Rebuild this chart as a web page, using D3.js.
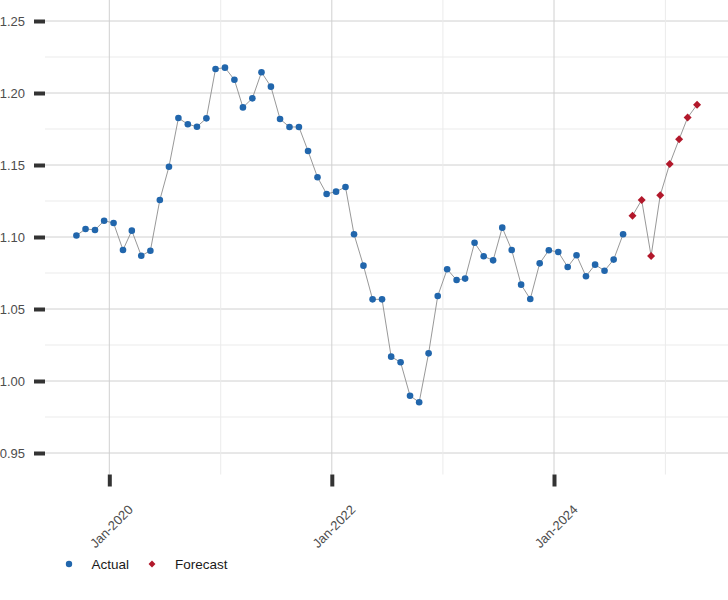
<!DOCTYPE html>
<html>
<head>
<meta charset="utf-8">
<script src="https://cdn.jsdelivr.net/npm/d3@7"></script>
<style>
  html, body { margin: 0; padding: 0; background: #fff; }
  svg { display: block; font-family: "Liberation Sans", Arial, sans-serif; }
</style>
</head>
<body>
<svg id="chart" width="728" height="600"></svg>
<script>
// ---- data ----
const actualMonths = ["2019-09","2019-10","2019-11","2019-12","2020-01","2020-02","2020-03","2020-04","2020-05","2020-06",
  "2020-07","2020-08","2020-09","2020-10","2020-11","2020-12","2021-01","2021-02","2021-03","2021-04",
  "2021-05","2021-06","2021-07","2021-08","2021-09","2021-10","2021-11","2021-12","2022-01","2022-02",
  "2022-03","2022-04","2022-05","2022-06","2022-07","2022-08","2022-09","2022-10","2022-11","2022-12",
  "2023-01","2023-02","2023-03","2023-04","2023-05","2023-06","2023-07","2023-08","2023-09","2023-10",
  "2023-11","2023-12","2024-01","2024-02","2024-03","2024-04","2024-05","2024-06","2024-07","2024-08"];
const actualValues = [1.101, 1.1056, 1.1049, 1.1113, 1.1097, 1.091, 1.1044, 1.087, 1.0905, 1.1257,
  1.1488, 1.1826, 1.1783, 1.1766, 1.1824, 1.2167, 1.2176, 1.2092, 1.19, 1.1963,
  1.2144, 1.2044, 1.1819, 1.1764, 1.1764, 1.1597, 1.1415, 1.1299, 1.1315, 1.1347,
  1.1019, 1.0801, 1.0567, 1.0567, 1.0169, 1.013, 0.9898, 0.9852, 1.0192, 1.059,
  1.0776, 1.0701, 1.0711, 1.096, 1.0866, 1.0838, 1.1065, 1.091, 1.0669, 1.0569,
  1.0817, 1.0908, 1.0896, 1.0792, 1.0873, 1.0727, 1.0808, 1.0766, 1.0843, 1.1019];
const forecastMonths = ["2024-09","2024-10","2024-11","2024-12","2025-01","2025-02","2025-03","2025-04"];
const forecastValues = [1.1148, 1.1257, 1.0868, 1.129, 1.1507, 1.1678, 1.1829, 1.1919];
const xTickLabels = ["Jan-2020", "Jan-2022", "Jan-2024"];
const xMinorLabels = ["Jan-2021", "Jan-2023", "Jan-2025"];
const yTicks = [0.95, 1.00, 1.05, 1.10, 1.15, 1.20, 1.25];
const yMinor = [0.975, 1.025, 1.075, 1.125, 1.175, 1.225];
const seriesNames = ["Actual", "Forecast"];

// ---- setup ----
const parseMonth = d3.timeParse("%Y-%m-%d");
const parseTick = d3.timeParse("%b-%Y");
const actual = actualMonths.map((m, i) => ({ date: parseMonth(m + "-15"), value: actualValues[i] }));
const forecast = forecastMonths.map((m, i) => ({ date: parseMonth(m + "-15"), value: forecastValues[i] }));

const svg = d3.select("#chart");
const plotLeft = 45, plotRight = 728, plotTop = 0, plotBottom = 474.5;

const x = d3.scaleTime()
  .domain([parseTick("Jan-2020"), parseTick("Jan-2024")])
  .range([109.3, 554]);
const y = d3.scaleLinear().domain([0.95, 1.25]).range([453, 21]);

const BLUE = "#2166ac", RED = "#b2182b";

// grid
const grid = svg.append("g");
grid.selectAll("line.hmin").data(yMinor).join("line")
  .attr("x1", plotLeft).attr("x2", plotRight)
  .attr("y1", d => y(d)).attr("y2", d => y(d))
  .attr("stroke", "#ebebeb").attr("stroke-width", 1);
grid.selectAll("line.hmaj").data(yTicks).join("line")
  .attr("x1", plotLeft).attr("x2", plotRight)
  .attr("y1", d => y(d)).attr("y2", d => y(d))
  .attr("stroke", "#d0d0d0").attr("stroke-width", 1);
grid.selectAll("line.vmin").data(xMinorLabels.map(parseTick)).join("line")
  .attr("x1", d => x(d)).attr("x2", d => x(d))
  .attr("y1", plotTop).attr("y2", plotBottom)
  .attr("stroke", "#ebebeb").attr("stroke-width", 1);
grid.selectAll("line.vmaj").data(xTickLabels.map(parseTick)).join("line")
  .attr("x1", d => x(d)).attr("x2", d => x(d))
  .attr("y1", plotTop).attr("y2", plotBottom)
  .attr("stroke", "#d0d0d0").attr("stroke-width", 1);

// y axis
const yAxis = d3.axisLeft(y).tickValues(yTicks).tickFormat(d3.format(".2f")).tickSize(11).tickPadding(9);
const gy = svg.append("g").attr("transform", `translate(${plotLeft},0)`).call(yAxis);
gy.select(".domain").remove();
gy.selectAll(".tick line").attr("stroke", "#333").attr("stroke-width", 4);
gy.selectAll(".tick text").attr("fill", "#4d4d4d").attr("font-size", 13)
  .attr("font-family", "'Liberation Sans', Arial, sans-serif");

// x axis
const xAxis = d3.axisBottom(x).tickValues(xTickLabels.map(parseTick)).tickFormat(d3.timeFormat("%b-%Y")).tickSize(12).tickPadding(0);
const gx = svg.append("g").attr("transform", `translate(0,${plotBottom})`).call(xAxis);
gx.select(".domain").remove();
gx.selectAll(".tick line").attr("stroke", "#333").attr("stroke-width", 4);
gx.selectAll(".tick text")
  .attr("fill", "#4d4d4d").attr("font-size", 13)
  .attr("font-family", "'Liberation Sans', Arial, sans-serif")
  .attr("text-anchor", "end")
  .attr("dy", null)
  .attr("y", 0)
  .attr("transform", "translate(24,36) rotate(-45)");

// lines
const line = d3.line().x(d => x(d.date)).y(d => y(d.value));
svg.append("path").datum(actual).attr("d", line)
  .attr("fill", "none").attr("stroke", "#8c8c8c").attr("stroke-width", 0.9);
svg.append("path").datum(forecast).attr("d", line)
  .attr("fill", "none").attr("stroke", "#8c8c8c").attr("stroke-width", 0.9);

// points
svg.append("g").selectAll("circle").data(actual).join("circle")
  .attr("cx", d => x(d.date)).attr("cy", d => y(d.value)).attr("r", 3.3)
  .attr("fill", BLUE);
const diamond = d3.symbol().type(d3.symbolSquare).size(32);
svg.append("g").selectAll("path").data(forecast).join("path")
  .attr("d", diamond)
  .attr("transform", d => `translate(${x(d.date)},${y(d.value)}) rotate(45)`)
  .attr("fill", RED);

// legend
const legend = svg.append("g").attr("font-family", "'Liberation Sans', Arial, sans-serif");
legend.append("circle").attr("cx", 69).attr("cy", 564).attr("r", 3.2).attr("fill", BLUE);
legend.append("text").attr("x", 91.5).attr("y", 569).attr("font-size", 13.5).attr("fill", "#1a1a1a").text(seriesNames[0]);
legend.append("path").attr("d", d3.symbol().type(d3.symbolSquare).size(24)())
  .attr("transform", "translate(152,564) rotate(45)").attr("fill", RED);
legend.append("text").attr("x", 175).attr("y", 569).attr("font-size", 13.5).attr("fill", "#1a1a1a").text(seriesNames[1]);
</script>
</body>
</html>
